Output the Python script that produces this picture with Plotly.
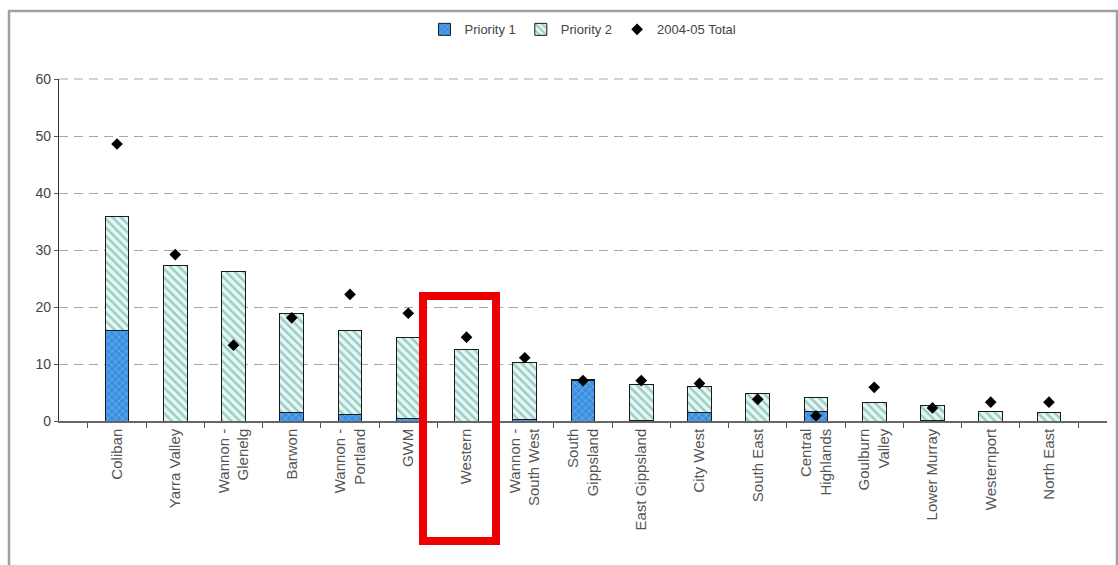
import plotly.graph_objects as go

categories = ["Coliban", "Yarra Valley", "Wannon -<br>Glenelg", "Barwon", "Wannon -<br>Portland",
              "GWM", "Western", "Wannon -<br>South West", "South<br>Gippsland", "East Gippsland",
              "City West", "South East", "Central<br>Highlands", "Goulburn<br>Valley",
              "Lower Murray", "Westernport", "North East"]
priority1 = [15.8, 0, 0, 1.5, 1.2, 0.4, 0, 0.2, 7.1, 0.1, 1.5, 0, 1.6, 0, 0.1, 0, 0]
priority2 = [20.0, 27.3, 26.3, 17.3, 14.6, 14.2, 12.6, 10.1, 0.2, 6.3, 4.5, 4.8, 2.5, 3.2, 2.7, 1.6, 1.5]
total_2004_05 = [48.6, 29.2, 13.3, 18.1, 22.2, 18.9, 14.7, 11.1, 7.1, 7.1, 6.6, 3.8, 0.9, 5.9, 2.3, 3.3, 3.3]
y_ticks = [0, 10, 20, 30, 40, 50, 60]

FONT = "Liberation Sans, Arial, sans-serif"
GRID = "#a8a8a8"

fig = go.Figure()
fig.add_trace(go.Bar(
    name="Priority 1", x=categories, y=priority1,
    marker=dict(color="#3a8fe0", line=dict(color="#1a1a1a", width=1),
                pattern=dict(shape="x", fgcolor="#9fd2f6", size=5, solidity=0.3)),
))
fig.add_trace(go.Bar(
    name="Priority 2", x=categories, y=priority2,
    marker=dict(color="#e4f7f3", line=dict(color="#1a1a1a", width=1),
                pattern=dict(shape="\\", fgcolor="#4e9d96", size=6, solidity=0.4)),
))
fig.add_trace(go.Scatter(
    name="2004-05 Total", x=categories, y=total_2004_05, mode="markers",
    marker=dict(symbol="diamond", color="black", size=9),
))

fig.update_layout(
    width=1118, height=565,
    margin=dict(l=59, r=11, t=79, b=144),
    paper_bgcolor="white", plot_bgcolor="white",
    barmode="stack", bargap=0.59,
    font=dict(family=FONT, size=13, color="#444"),
    showlegend=True,
    legend=dict(orientation="h", x=0.5, xanchor="center", y=1.145, yanchor="middle",
                font=dict(family=FONT, size=13, color="#444"), itemwidth=30,
                traceorder="normal", bgcolor="rgba(0,0,0,0)"),
    xaxis=dict(type="category", showgrid=False, showline=True, linecolor="#666", linewidth=1.5,
               ticks="outside", tickson="boundaries", ticklen=5, tickcolor="#555",
               tickangle=-90, tickfont=dict(family=FONT, size=15, color="#555")),
    yaxis=dict(range=[0, 60], tickvals=y_ticks, showgrid=True, gridcolor=GRID, gridwidth=1,
               griddash="9px,6px", showline=True, linecolor="#333", linewidth=1.2,
               ticks="outside", ticklen=4, tickcolor="#555", zeroline=False,
               tickfont=dict(family=FONT, size=14, color="#444")),
    shapes=[
        # top gridline (at the top edge of the plot area)
        dict(type="line", xref="paper", yref="paper", x0=0, x1=1, y0=1, y1=1,
             line=dict(color=GRID, width=1, dash="9px,6px"), layer="below"),
        dict(type="rect", xref="paper", yref="paper",
             x0=(9 - 59) / 1048, x1=(1117 - 59) / 1048,
             y0=(421 - 575) / 342, y1=(421 - 11) / 342,
             line=dict(color="#a0a0a0", width=2.5), fillcolor="rgba(0,0,0,0)", layer="below"),
        dict(type="rect", xref="paper", yref="paper",
             x0=(423 - 59) / 1048, x1=(496 - 59) / 1048,
             y0=(421 - 541) / 342, y1=(421 - 296) / 342,
             line=dict(color="#ee0000", width=8), fillcolor="rgba(0,0,0,0)", layer="above"),
    ],
)

fig.write_html("out.html")
